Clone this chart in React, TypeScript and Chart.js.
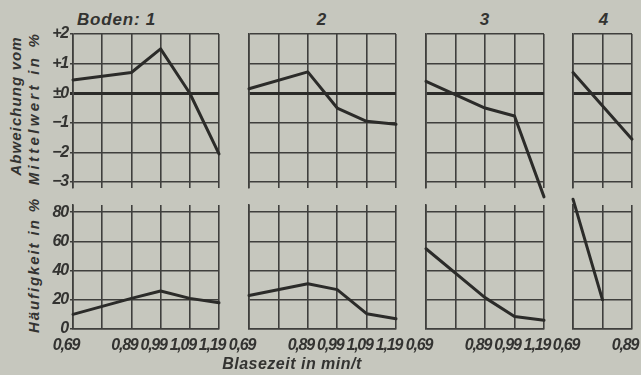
import React, { useEffect, useRef } from "react";
import { Chart, registerables } from "chart.js";

Chart.register(...registerables);

// ---- data ----
const bodenTitles = ["Boden: 1", "2", "3", "4"];
const xAxisTitle = "Blasezeit in min/t";
const abwTitle = ["Abweichung vom", "Mittelwert in %"];
const hfgTitle = "Häufigkeit in %";

const abwTickValues = [-3, -2, -1, 0, 1, 2];
const abwTickLabels = ["−3", "−2", "−1", "±0", "+1", "+2"];
const hfgTickValues = [0, 20, 40, 60, 80];
const hfgTickLabels = ["0", "20", "40", "60", "80"];

// panel 1
const p1Cols = 5;
const p1Pos = [0, 2, 3, 4, 5];
const p1Labels = ["0,69", "0,89", "0,99", "1,09", "1,19"];
const p1Abw = [0.45, 0.7, 1.5, 0, -2.05];
const p1Hfg = [10, 21, 26, 21, 18];

// panel 2
const p2Cols = 5;
const p2Pos = [0, 2, 3, 4, 5];
const p2Labels = ["0,69", "0,89", "0,99", "1,09", "1,19"];
const p2Abw = [0.15, 0.72, -0.5, -0.95, -1.05];
const p2Hfg = [23, 31, 27, 10.5, 7];

// panel 3
const p3Cols = 4;
const p3Pos = [0, 2, 3, 4];
const p3Labels = ["0,69", "0,89", "0,99", "1,19"];
const p3Abw = [0.4, -0.5, -0.77, -3.5];
const p3Hfg = [55, 21.5, 8.5, 6];

// panel 4
const p4Cols = 2;
const p4Pos = [0, 2];
const p4Labels = ["0,69", "0,89"];
const p4Abw = [0.7, -1.55];
const p4HfgPos = [0, 1];
const p4Hfg = [89, 20];

// ---- styling / layout ----
const BG = "rgb(198,199,190)";
const INK = "#333331";
const GRID = "#3f3f3d";
const FAM = "'Liberation Sans', Arial, sans-serif";

type Kind = "abw" | "hfg";
interface Spec {
  kind: Kind;
  cols: number;
  xs: number[];
  ys: number[];
  tickPos: number[];
  tickLabels: string[];
  first: boolean;
  areaLeft: number;
  areaRight: number;
}

const rows = {
  abw: { areaTop: 34, areaBottom: 188, padTop: 12, xHeight: 12, min: -3.2, max: 2 },
  hfg: { areaTop: 205, areaBottom: 329, padTop: 15, xHeight: 25, min: 0, max: 85 },
};

const spacingPlugin = {
  id: "spacing",
  beforeDraw(chart: any) {
    chart.ctx.letterSpacing = "-1.2px";
  },
};

function geom(spec: Spec) {
  const r = rows[spec.kind];
  const padL = spec.first ? 0 : 30;
  const padR = 30;
  const left = spec.first ? 0 : spec.areaLeft - padL;
  const w = spec.areaRight + padR - left;
  const top = r.areaTop - r.padTop;
  const h = r.padTop + (r.areaBottom - r.areaTop) + r.xHeight;
  return { padL, padR, left, w, top, h, r };
}

function buildConfig(spec: Spec): any {
  const g = geom(spec);
  const r = g.r;
  const isAbw = spec.kind === "abw";
  const tVals = isAbw ? abwTickValues : hfgTickValues;
  const tLabs = isAbw ? abwTickLabels : hfgTickLabels;
  const colTicks: number[] = [];
  for (let i = 0; i <= spec.cols; i++) colTicks.push(i);
  return {
    type: "line",
    data: {
      datasets: [
        {
          data: spec.xs.map((x, i) => ({ x, y: spec.ys[i] })),
          borderColor: "#2b2b29",
          borderWidth: 3,
          borderCapStyle: "round",
          borderJoinStyle: "round",
          pointRadius: 0,
          tension: 0,
          clip: false,
        },
      ],
    },
    options: {
      responsive: false,
      animation: false,
      events: [],
      layout: { padding: { left: g.padL, right: g.padR, top: r.padTop, bottom: 0 } },
      plugins: { legend: { display: false }, tooltip: { enabled: false } },
      scales: {
        x: {
          type: "linear",
          min: 0,
          max: spec.cols,
          afterBuildTicks: (s: any) => {
            s.ticks = colTicks.map((v) => ({ value: v }));
          },
          afterFit: (s: any) => {
            s.height = r.xHeight;
          },
          grid: { color: GRID, lineWidth: 1.6, drawTicks: false },
          border: { display: !isAbw, color: GRID, width: 1.6 },
          ticks: {
            display: !isAbw,
            autoSkip: false,
            maxRotation: 0,
            padding: 7,
            labelOffset: -7,
            color: INK,
            font: { family: FAM, size: 16, style: "italic", weight: "bold" },
            callback: (v: any) => {
              const i = spec.tickPos.indexOf(Number(v));
              return i >= 0 ? spec.tickLabels[i] : "";
            },
          },
        },
        y: {
          type: "linear",
          min: r.min,
          max: r.max,
          afterBuildTicks: (s: any) => {
            s.ticks = tVals.map((v) => ({ value: v }));
          },
          afterFit: (s: any) => {
            s.width = spec.first ? spec.areaLeft : 0;
          },
          grid: {
            color: (c: any) => (isAbw && c.tick && c.tick.value === 0 ? "#2b2b29" : GRID),
            lineWidth: (c: any) => (isAbw && c.tick && c.tick.value === 0 ? 3 : 1.6),
            drawTicks: spec.first,
            tickLength: 3,
          },
          border: { color: GRID, width: 1.6 },
          ticks: {
            display: spec.first,
            padding: 2,
            color: INK,
            font: { family: FAM, size: 16, style: "italic", weight: "bold" },
            callback: (v: any) => {
              const i = tVals.indexOf(Number(v));
              return i >= 0 ? tLabs[i] : "";
            },
          },
        },
      },
    },
    plugins: [spacingPlugin],
  };
}

function Panel({ spec }: { spec: Spec }) {
  const ref = useRef<HTMLCanvasElement>(null);
  const g = geom(spec);
  useEffect(() => {
    const chart = new Chart(ref.current!, buildConfig(spec));
    return () => chart.destroy();
  }, []);
  return (
    <canvas
      ref={ref}
      width={g.w}
      height={g.h}
      style={{ position: "absolute", left: g.left, top: g.top, width: g.w, height: g.h }}
    />
  );
}

const areas = [
  { l: 73, r: 219 },
  { l: 249, r: 396 },
  { l: 426, r: 544 },
  { l: 573, r: 632 },
];

const specs: Spec[] = [
  { kind: "abw", cols: p1Cols, xs: p1Pos, ys: p1Abw, tickPos: p1Pos, tickLabels: p1Labels, first: true, areaLeft: areas[0].l, areaRight: areas[0].r },
  { kind: "hfg", cols: p1Cols, xs: p1Pos, ys: p1Hfg, tickPos: p1Pos, tickLabels: p1Labels, first: true, areaLeft: areas[0].l, areaRight: areas[0].r },
  { kind: "abw", cols: p2Cols, xs: p2Pos, ys: p2Abw, tickPos: p2Pos, tickLabels: p2Labels, first: false, areaLeft: areas[1].l, areaRight: areas[1].r },
  { kind: "hfg", cols: p2Cols, xs: p2Pos, ys: p2Hfg, tickPos: p2Pos, tickLabels: p2Labels, first: false, areaLeft: areas[1].l, areaRight: areas[1].r },
  { kind: "abw", cols: p3Cols, xs: p3Pos, ys: p3Abw, tickPos: p3Pos, tickLabels: p3Labels, first: false, areaLeft: areas[2].l, areaRight: areas[2].r },
  { kind: "hfg", cols: p3Cols, xs: p3Pos, ys: p3Hfg, tickPos: p3Pos, tickLabels: p3Labels, first: false, areaLeft: areas[2].l, areaRight: areas[2].r },
  { kind: "abw", cols: p4Cols, xs: p4Pos, ys: p4Abw, tickPos: p4Pos, tickLabels: p4Labels, first: false, areaLeft: areas[3].l, areaRight: areas[3].r },
  { kind: "hfg", cols: p4Cols, xs: p4HfgPos, ys: p4Hfg, tickPos: p4Pos, tickLabels: p4Labels, first: false, areaLeft: areas[3].l, areaRight: areas[3].r },
];

const textStyle: React.CSSProperties = {
  position: "absolute",
  fontFamily: FAM,
  fontStyle: "italic",
  fontWeight: "bold",
  color: INK,
  whiteSpace: "nowrap",
};

function RotText({ text, cx, cy, size, spacing }: { text: string; cx: number; cy: number; size: number; spacing: number }) {
  return (
    <div
      style={{
        ...textStyle,
        left: cx,
        top: cy,
        fontSize: size,
        lineHeight: `${size + 2}px`,
        letterSpacing: `${spacing}px`,
        transform: "translate(-50%, -50%) rotate(-90deg)",
      }}
    >
      {text}
    </div>
  );
}

const headerPos = [
  { x: 77, align: "left" },
  { x: 322, align: "center" },
  { x: 485, align: "center" },
  { x: 604, align: "center" },
];

export default function App() {
  return (
    <div
      style={{
        position: "fixed",
        left: 0,
        top: 0,
        width: 641,
        height: 375,
        overflow: "hidden",
        background: BG,
      }}
    >
      {bodenTitles.map((t, i) => {
        const p = headerPos[i];
        const base: React.CSSProperties = { ...textStyle, top: 9, fontSize: 17, lineHeight: "21px", letterSpacing: "0.8px" };
        const st: React.CSSProperties =
          p.align === "left"
            ? { ...base, left: p.x }
            : { ...base, left: p.x - 30, width: 60, textAlign: "center" };
        return (
          <div key={i} style={st}>
            {t}
          </div>
        );
      })}
      <RotText text={abwTitle[0]} cx={15} cy={106} size={15} spacing={1.1} />
      <RotText text={abwTitle[1]} cx={33} cy={108} size={15} spacing={3.3} />
      <RotText text={hfgTitle} cx={33} cy={265} size={15} spacing={1.9} />
      {specs.map((s, i) => (
        <Panel key={i} spec={s} />
      ))}
      <div
        style={{
          ...textStyle,
          left: 192,
          width: 200,
          textAlign: "center",
          top: 354,
          fontSize: 16,
          lineHeight: "20px",
          letterSpacing: "0.5px",
        }}
      >
        {xAxisTitle}
      </div>
    </div>
  );
}
